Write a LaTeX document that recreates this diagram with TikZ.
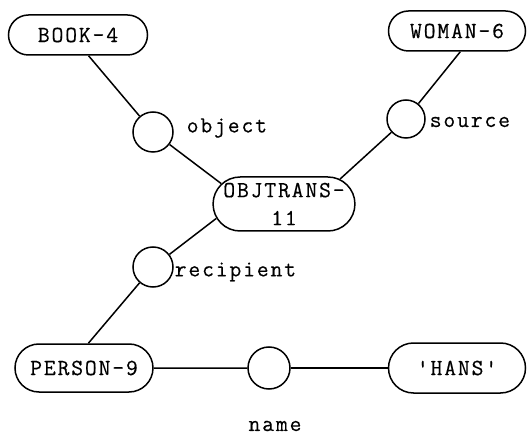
\documentclass[tikz,border=0pt]{standalone}
\usepackage{fontspec}
\usetikzlibrary{shapes.misc}
\setmonofont[LetterSpace=8, FakeBold=0.4]{Latin Modern Mono}
\begin{document}
\begin{tikzpicture}[x=1pt, y=-1pt,
  font=\ttfamily\fontsize{23}{22}\selectfont,
  line width=1.5pt,
  term/.style={draw, rounded rectangle, minimum width=139pt,
    minimum height=45pt, inner xsep=0pt, inner ysep=0pt},
  rel/.style={draw, circle, minimum size=40pt, inner sep=0pt},
  lbl/.style={anchor=west, inner sep=0pt}]
\useasboundingbox (0,0) rectangle (527,435);

% concept nodes
\node[term, minimum height=40pt] (book) at (78,35) {BOOK-4};
\node[term, minimum height=40pt, minimum width=137pt] (woman) at (457,31) {WOMAN-6};
\node[term, minimum height=54pt, align=center,
  font=\ttfamily\fontsize{23}{28}\selectfont] (ot) at (284,204) {OBJTRANS-\\11};
\node[term, minimum height=48pt, minimum width=138pt] (person) at (84,368) {PERSON-9};
\node[term, minimum height=50pt, minimum width=137pt] (hans) at (457,368) {\symbol{39}HANS\symbol{39}};

% relation nodes
\node[rel] (obj) at (153,132) {};
\node[rel, minimum size=38pt] (src) at (406,119) {};
\node[rel] (rcp) at (153,267) {};
\node[rel, minimum size=42pt] (nm) at (269,368) {};

% relation labels
\node[lbl] (lobj) at (186,128) {object};
\node[lbl] (lsrc) at (429,122) {source};
\node[lbl] (lrcp) at (174,272) {recipient};
\node (lnm) at (275,426) {name};

% arcs
\draw (book.-63) -- (obj);
\draw (obj) -- (ot.162);
\draw (woman.-81) -- (src);
\draw (src) -- (ot.24);
\draw (ot.192) -- (rcp);
\draw (rcp) -- (person.80);
\draw (person) -- (nm);
\draw (nm) -- (hans);
\end{tikzpicture}
\end{document}
